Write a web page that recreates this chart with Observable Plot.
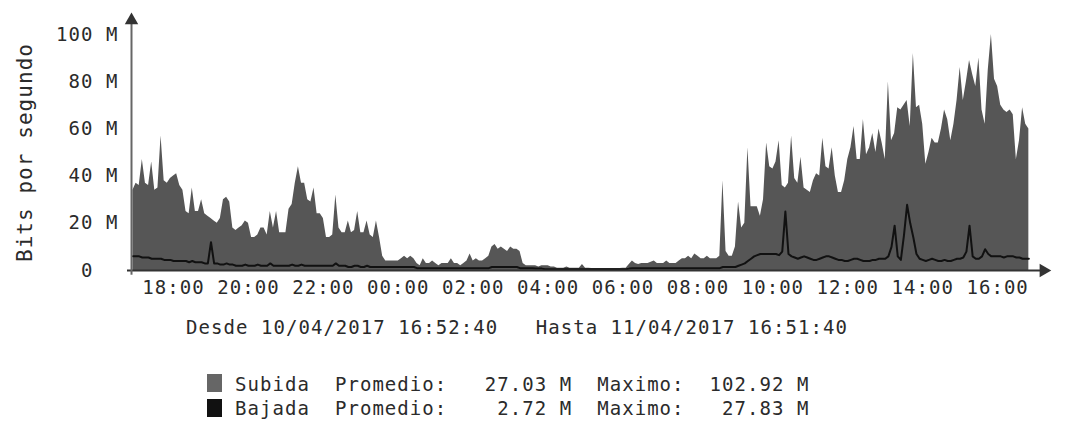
<!DOCTYPE html>
<html><head><meta charset="utf-8">
<script src="https://cdn.jsdelivr.net/npm/d3@7"></script>
<script src="https://cdn.jsdelivr.net/npm/@observablehq/plot@0.6"></script>
<style>
body{margin:0;background:#fff;width:1085px;height:426px;overflow:hidden;position:relative;font-family:"DejaVu Sans Mono",monospace;color:#2b2b2b}
#chart{position:absolute;left:0;top:0}
.txt{position:absolute;white-space:pre;font-size:19px;letter-spacing:1.05px;line-height:20px}
.sw{position:absolute;width:15px;height:18px}
</style></head><body>
<div id="chart"></div>
<div class="txt" id="rango" style="left:186px;top:317px"></div>
<div class="sw" style="left:207px;top:374px;background:#666"></div>
<div class="txt" id="l1" style="left:235px;top:374px"></div>
<div class="sw" style="left:207px;top:399px;background:#111"></div>
<div class="txt" id="l2" style="left:235px;top:398px"></div>
<script>
// Muestras cada 5 minutos desde 16:55 (10/04/2017), en Mbit/s
const subida1 = [ // 16:55 - 22:50
  34,37,36,47,37,36,46,34,35,57,38,37,
  39,40,41,36,34,25,24,35,25,25,30,24,
  23,22,21,20,22,30,31,29,18,17,18,19,
  21,20,14,14,15,18,18,15,25,18,25,16,
  16,16,26,28,37,44,37,37,30,29,35,24,
  24,22,14,14,15,32,18,16,16,21,16,17];
const subida2 = [ // 22:55 - 04:50
  25,16,16,21,15,14,21,14,6,4,4,4,
  4,4,5,6,5,6,5,3,2,5,3,3,
  4,3,2,3,3,3,5,3,3,2,3,4,
  7,4,5,4,4,5,6,10,11,9,10,9,
  8,10,9,9,8,3,2,2,2,2,1.5,2,
  2,2,1.5,1.5,1,1,1,1.5,1,1,1,1];
const subida3 = [ // 04:55 - 10:50
  2.5,1,1,0.8,0.8,0.8,0.8,0.8,0.8,0.8,0.8,0.8,
  0.8,1,1,2.5,4,3,2.5,3,3,3,3.5,4,
  3,3,3,4,3,3,3,4,5,5,6,5,
  7,6,5,5,6,5,5,5,6,38,8,6,
  6,10,29,18,20,52,27,27,27,23,30,54,
  44,43,46,55,36,35,37,57,39,37,48,35];
const subida4 = [ // 10:55 - 16:50
  34,33,38,41,40,56,44,43,52,40,33,33,
  38,47,52,61,47,47,64,49,52,58,50,60,
  54,47,80,55,58,69,68,70,72,61,92,69,
  70,62,45,50,56,54,54,60,68,64,55,62,
  72,86,72,80,89,83,78,90,68,62,85,100,
  81,78,70,68,67,68,66,47,55,69,62,60];
const bajada1 = [
  6,6,6,5.5,5.5,5.5,5,5,5,5,4.5,4.5,
  4.5,4,4,4,4,4,3.5,4,3.5,3.5,3.5,3,
  3,12,3,3,2.5,2.5,3,2.5,2.5,2,2,2,
  2.5,2,2,2,2.5,2,2,2,3,2,2,2,
  2,2,2,2.5,2,2,2.5,2,2,2,2,2,
  2,2,2,2,2,3,2,2,2,1.5,1.5,2];
const bajada2 = [
  2,1.5,1.5,2,1.5,1.5,1.5,1.5,1.5,1.5,1.5,1.5,
  1.5,1.5,1.5,1.5,1.5,1.5,1.5,1,1,1,1,1,
  1,1,1,1,1,1,1,1,1,1,1,1,
  1,1,1,1,1,1,1,1.5,1.5,1.5,1.5,1.5,
  1.5,1.5,1.5,1.5,1,1,1,1,1,0.8,0.8,0.8,
  0.5,0.5,0.5,0.5,0.5,0.5,0.5,0.5,0.5,0.5,0.5,0.5];
const bajada3 = [
  0.5,0.5,0.5,0.5,0.5,0.5,0.5,0.5,0.5,0.5,0.5,0.5,
  0.5,0.5,0.5,0.8,1,1,1,1,1,1,1,1,
  1,1,1,1,1,1,1,1,1,1,1,1,
  1,1,1,1,1,1,1,1,1,1.5,1.5,1.5,
  1.5,1.5,2,2.5,3,4,5,6,6.5,7,7,7,
  7,7,7,6.5,8,25,7,6,5.5,5,5.5,6];
const bajada4 = [
  5.5,5,4.5,4.5,5,5.5,6,6,5.5,5,4.5,4.5,
  4,4,4.5,5,5,4.5,4,4,4,4.5,4.5,5,
  5,5,6,10,19,6,4.5,15,27.83,20,14,7,
  5,4.5,4,4.5,5,4.5,4,4,4.5,4,4,4.5,
  5,5,5.5,8,19,6,5,5,6,9,7,6,
  6,6,6,5.5,6,6,6,5.5,5.5,5,5,5];

const horasEje = ["18:00","20:00","22:00","00:00","02:00","04:00","06:00","08:00","10:00","12:00","14:00","16:00"];
const yTicks = [0,20,40,60,80,100];
const series = ["Subida","Bajada"];
const promedios = ["27.03 M","2.72 M"];
const maximos = ["102.92 M","27.83 M"];
const desde = "10/04/2017 16:52:40";
const hasta = "11/04/2017 16:51:40";
const tituloY = "Bits por segundo";

const subida = [...subida1, ...subida2, ...subida3, ...subida4];
const bajada = [...bajada1, ...bajada2, ...bajada3, ...bajada4];
const t0 = Date.UTC(2017,3,10,16,55);
const paso = 5*60*1000;
const datos = subida.map((v,i)=>({t:new Date(t0+i*paso), subida:v, bajada:bajada[i]}));
const inicio = new Date(Date.UTC(2017,3,10,16,52,40));
const finEje = new Date(Date.UTC(2017,3,11,17,13,28));
const ticks = horasEje.map(h=>{const [H,M]=h.split(":").map(Number); return new Date(Date.UTC(2017,3,H>=17?10:11,H,M));});

const chart = Plot.plot({
  width:1085, height:305, marginLeft:131, marginRight:42, marginTop:34, marginBottom:35,
  style:{fontFamily:'"DejaVu Sans Mono", monospace', fontSize:"19px", letterSpacing:"1.05px", color:"#2b2b2b", background:"transparent", overflow:"visible"},
  x:{type:"utc", domain:[inicio, finEje]},
  y:{domain:[0,100]},
  marks:[
    Plot.areaY(datos,{x:"t", y:"subida", fill:"#565656"}),
    Plot.lineY(datos,{x:"t", y:"bajada", stroke:"#111", strokeWidth:2}),
    Plot.ruleY([0],{x1:new Date(+inicio - 6.4*60000), x2:finEje, stroke:"#333", strokeWidth:2}),
    Plot.ruleX([inicio],{y1:-2, y2:106, stroke:"#666", strokeWidth:2}),
    Plot.dot([{x:inicio, y:106}],{x:"x", y:"y", symbol:"triangle", r:5, fill:"#333"}),
    Plot.dot([{x:finEje, y:0}],{x:"x", y:"y", symbol:"triangle", r:5, fill:"#333", rotate:90}),
    Plot.axisX({ticks, tickFormat:d3.utcFormat("%H:%M"), tickSize:0, tickPadding:10, label:null}),
    Plot.axisY({ticks:yTicks, tickFormat:d=>d===0?"0\u00a0\u00a0":d+" M", tickSize:0, tickPadding:13, label:null}),
    Plot.text([tituloY],{frameAnchor:"left", dx:-106, rotate:-90, fontSize:21, textAnchor:"middle"})
  ]
});
document.getElementById("chart").append(chart);
document.getElementById("rango").textContent = "Desde " + desde + "   Hasta " + hasta;
const linea = i => series[i].padEnd(8) + "Promedio:" + promedios[i].padStart(10) + "  Maximo:" + maximos[i].padStart(10);
document.getElementById("l1").textContent = linea(0);
document.getElementById("l2").textContent = linea(1);
</script>
</body></html>
